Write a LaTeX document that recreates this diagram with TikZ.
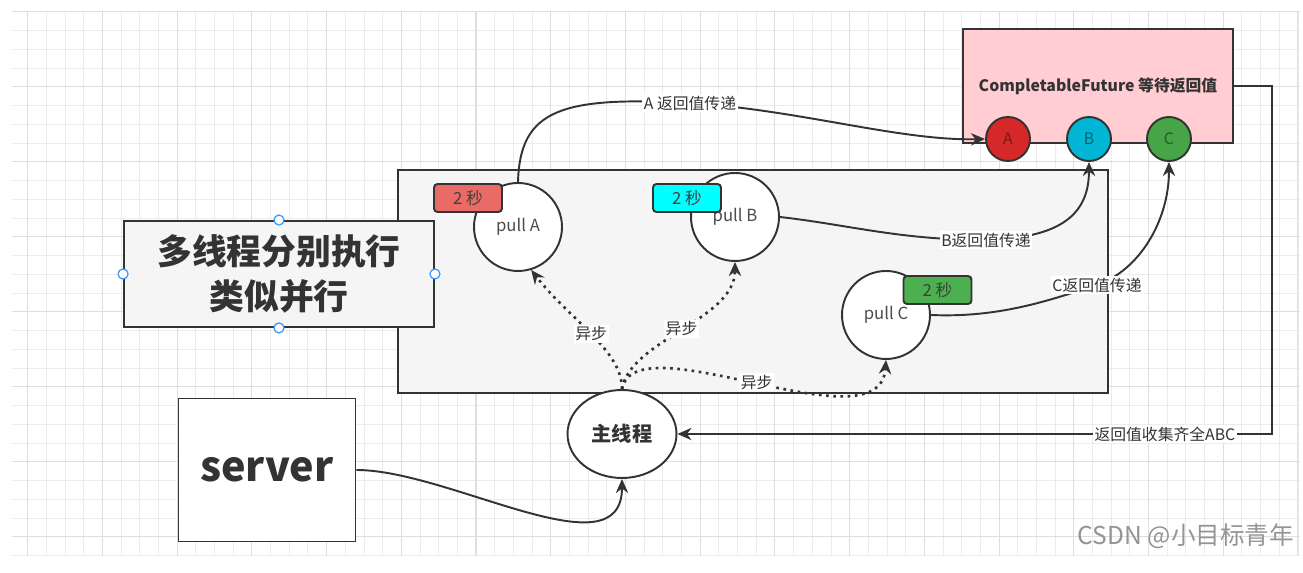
\documentclass[tikz,border=0pt]{standalone}
\usepackage{fontspec}
\setmainfont{Noto Sans CJK SC}
\usepackage{tikz}
\usetikzlibrary{shapes.geometric,arrows.meta,positioning,calc}
\definecolor{lineGray}{RGB}{51,51,51}
\definecolor{poolGray}{RGB}{245,245,245}
\definecolor{gridMinor}{RGB}{236,236,236}
\definecolor{gridMajor}{RGB}{222,222,222}
\definecolor{futPink}{RGB}{255,205,210}
\definecolor{tagRed}{RGB}{234,107,102}
\definecolor{tagCyan}{RGB}{0,255,255}
\definecolor{tagGreen}{RGB}{76,175,80}
\definecolor{retRed}{RGB}{214,40,40}
\definecolor{retBlue}{RGB}{0,182,212}
\definecolor{retGreen}{RGB}{70,165,70}
\definecolor{handleBlue}{RGB}{51,153,255}

\tikzset{
  flow/.style={draw=lineGray, line width=1.1pt, -{Stealth[length=8pt,width=7pt]}},
  async/.style={flow, line width=1.5pt, dash pattern=on 1.5pt off 2.6pt},
  lbl/.style={fill=white, inner sep=1pt, text=lineGray, font=\fontsize{9}{11}\selectfont},
  pullnode/.style={circle, draw=lineGray, line width=1.1pt, fill=white, minimum size=1.76cm, inner sep=0pt, text=black!70, font=\fontsize{9.5}{11}\selectfont},
  tagbox/.style={draw=lineGray, line width=1.1pt, rounded corners=2pt, minimum width=1.36cm, minimum height=0.56cm, inner sep=0pt, text=black!75, font=\fontsize{9.5}{11}\selectfont},
  retnode/.style={circle, draw=lineGray, line width=1.1pt, minimum size=0.88cm, inner sep=0pt, font=\fontsize{9}{10}\selectfont},
  handle/.style={circle, draw=handleBlue, fill=white, line width=0.7pt, minimum size=0.2cm, inner sep=0pt},
  gridline/.style={draw=gridMinor, line width=0.5pt},
  gridbold/.style={draw=gridMajor, line width=0.6pt},
}

\begin{document}
\begin{tikzpicture}[x=0.02cm, y=-0.02cm]
  \useasboundingbox (0,0) rectangle (1303,573);
  % grid
  \foreach \i in {0,...,68}
    \draw[gridline] ({27.7+18.68*\i},12) -- ({27.7+18.68*\i},556);
  \foreach \j in {0,...,29}
    \draw[gridline] (12,{11.7+18.75*\j}) -- (1300,{11.7+18.75*\j});
  \foreach \i in {0,4,...,68}
    \draw[gridbold] ({27.7+18.68*\i},12) -- ({27.7+18.68*\i},556);
  \foreach \j in {0,4,...,28}
    \draw[gridbold] (12,{11.7+18.75*\j}) -- (1300,{11.7+18.75*\j});

  % thread pool area
  \node[draw=lineGray, line width=1.1pt, fill=poolGray, minimum width=14.2cm, minimum height=4.46cm, inner sep=0pt] (pool) at (753,281.5) {};

  % title box
  \node[draw=lineGray, line width=1.1pt, fill=poolGray, minimum width=6.2cm, minimum height=2.12cm, inner sep=0pt,
        align=center, text=lineGray, font=\bfseries\fontsize{19.8}{25.5}\selectfont] (title) at (279,274) {多线程分别执行\\类似并行};
  \node[handle] (hN) at (title.north) {};
  \node[handle] (hS) at (title.south) {};
  \node[handle] (hW) at (title.west) {};
  \node[handle] (hE) at (title.east) {};

  % pulls
  \node[pullnode] (pA) at (518,227) {pull A};
  \node[pullnode] (pB) at (735,217) {pull B};
  \node[pullnode] (pC) at (886,315) {pull C};
  \node[tagbox, fill=tagRed] (tA) at (468,198) {2 秒};
  \node[tagbox, fill=tagCyan] (tB) at (687,198) {2 秒};
  \node[tagbox, fill=tagGreen] (tC) at (937.5,290) {2 秒};

  % future box
  \node[draw=lineGray, line width=1.1pt, fill=futPink, minimum width=5.4cm, minimum height=2.28cm, inner sep=0pt,
        text=lineGray, font=\bfseries\fontsize{9}{11}\selectfont] (fut) at (1098,86) {CompletableFuture 等待返回值};
  \node[retnode, fill=retRed, text=retRed!60!black] (rA) at (1008,139) {A};
  \node[retnode, fill=retBlue, text=retBlue!55!black] (rB) at (1089,139) {B};
  \node[retnode, fill=retGreen, text=retGreen!55!black] (rC) at (1169,139) {C};

  % main thread and server
  \node[ellipse, draw=lineGray, line width=1.1pt, fill=white, minimum width=2.18cm, minimum height=1.76cm, inner sep=0pt,
        text=lineGray, font=\bfseries\fontsize{11.5}{13}\selectfont] (main) at (622,434) {主线程};
  \node[draw=lineGray, line width=1.1pt, fill=white, minimum width=3.54cm, minimum height=2.86cm, inner sep=0pt,
        text=lineGray, font=\bfseries\fontsize{23.5}{28}\selectfont] (srv) at (267,470) {server};

  % async calls
  \draw[async] (main.north) .. controls (622,350) and (570,320) .. (pA.-73) node[lbl, pos=0.5] {异步};
  \draw[async] (main.north) .. controls (630,340) and (735,320) .. (pB.south) node[lbl, pos=0.5] {异步};
  \draw[async] (main.north) .. controls (635,320) and (880,450) .. (pC.south) node[lbl, pos=0.5] {异步};

  % results
  \draw[flow] (pA.north) .. controls (520,110) and (560,96) .. (690,103) node[lbl] {A 返回值传递}
              .. controls (800,110) and (900,141) .. (rA.west);
  \draw[flow] (pB.east) .. controls (850,225) and (900,240) .. (986,240) node[lbl] {B返回值传递}
              .. controls (1060,238) and (1089,215) .. (rB.south);
  \draw[flow] (pC.east) .. controls (1000,318) and (1050,300) .. (1097,285) node[lbl] {C返回值传递}
              .. controls (1140,270) and (1169,220) .. (rC.south);
  \draw[flow] (fut.east) -- ++(38,0) |- (main.east) node[lbl, pos=0.59] {返回值收集齐全ABC};
  \draw[flow] (srv.east) .. controls (450,470) and (622,575) .. (main.south);

  % watermark
  \node[text=black!42, font=\fontsize{14}{16}\selectfont] (mark) at (1186,536) {CSDN @小目标青年};
\end{tikzpicture}
\end{document}
